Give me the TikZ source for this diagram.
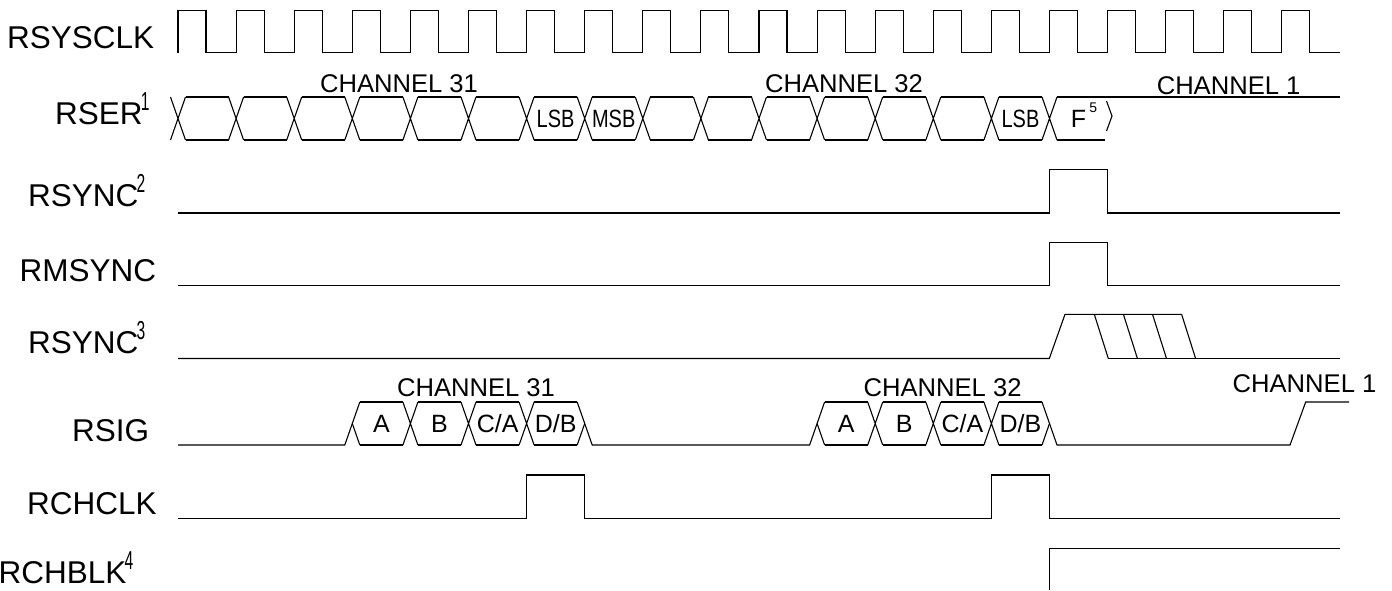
\documentclass[tikz,border=0pt]{standalone}
\usepackage{fontspec}
\setmainfont{Liberation Sans}
\newfontfamily\narrowfont[FakeStretch=0.8]{Liberation Sans}
\newfontfamily\notefont[FakeStretch=0.6]{Liberation Sans}
\newcommand{\notemark}[1]{\kern-0.8pt\raisebox{6.6pt}{\notefont\fontsize{13pt}{13pt}\selectfont #1}}

\begin{document}
\begin{tikzpicture}[x=0.5pt, y=-0.5pt, line width=0.55pt,
    signame/.style={anchor=base west, inner sep=0pt, font=\fontsize{15.75pt}{18pt}\selectfont},
    chname/.style={anchor=base, inner sep=0pt, font=\fontsize{12.8pt}{15pt}\selectfont},
    bitname/.style={anchor=base, inner sep=0pt, font=\fontsize{12.5pt}{15pt}\selectfont},
    narrowbit/.style={bitname, font=\narrowfont\fontsize{12.5pt}{15pt}\selectfont}]
    \useasboundingbox (0,0) rectangle (1392,590);

    \node[signame] (rsysclk) at (6.5,48) {RSYSCLK};
    \node[signame] (rser) at (54.5,124) {RSER\notemark{1}};
    \node[signame] (rsync) at (27.5,206) {RSYNC\notemark{2}};
    \node[signame] (rmsync) at (19,281) {RMSYNC};
    \node[signame] (rsyncout) at (27.5,353) {RSYNC\notemark{3}};
    \node[signame] (rsig) at (71.5,441) {RSIG};
    \node[signame] (rchclk) at (26.5,514.5) {RCHCLK};
    \node[signame] (rchblk) at (-2,583) {RCHBLK\notemark{4}};

    \node[chname] (sertop31) at (399,92) {CHANNEL 31};
    \node[chname] (sertop32) at (844,92) {CHANNEL 32};
    \node[chname] (sertop1) at (1228.6,94) {CHANNEL 1};
    \node[chname] (sigtop31) at (476,396) {CHANNEL 31};
    \node[chname] (sigtop32) at (942.6,396) {CHANNEL 32};
    \node[chname] (sigtop1) at (1304.5,392) {CHANNEL 1};

    \draw (178,52.5) \foreach \k in {0,...,19} {
        -- ({178+58.1*\k},10.5) -- ({206+58.1*\k},10.5)
        -- ({206+58.1*\k},52.5) -- ({236.1+58.1*\k},52.5)};

    \foreach \k in {0,...,15}
        \draw ({170.5+58.1*\k},97) -- ({185.5+58.1*\k},140) ({170.5+58.1*\k},140) -- ({185.5+58.1*\k},97);
    \foreach \k in {0,...,14}
        \draw ({185.5+58.1*\k},97) -- ({228.6+58.1*\k},97) ({185.5+58.1*\k},140) -- ({228.6+58.1*\k},140);
    \draw (1057,97) -- (1340,97) (1057,140) -- (1105,140);
    \draw (1106.5,101) -- (1112,116) -- (1106.5,131);
    \node[narrowbit] (lsb31) at (555.6,127.5) {LSB};
    \node[narrowbit] (msb32) at (613.7,127.5) {MSB};
    \node[narrowbit] (lsb32) at (1020.5,127.5) {LSB};
    \node[bitname] (fbit) at (1084,127.5) {F\kern1.5pt\raisebox{7.5pt}{\fontsize{7pt}{7pt}\selectfont 5}};

    \draw (178,213) -- (1049.5,213) -- (1049.5,169.5) -- (1107.6,169.5) -- (1107.6,213) -- (1340,213);
    \draw (178,285.7) -- (1049.5,285.7) -- (1049.5,242.3) -- (1107.6,242.3) -- (1107.6,285.7) -- (1340,285.7);

    \draw (178,358.5) -- (1049.3,358.5) -- (1065,314.3) -- (1181.7,314.3);
    \foreach \j in {0,...,3}
        \draw ({1094.3+29.1*\j},314.3) -- ({1108.3+29.1*\j},358.5);
    \draw (1108.3,358.5) -- (1340,358.5);

    \draw (178,445) -- (344.8,445) -- (359.8,402);
    \draw (352.3,423.5) -- (359.8,445);
    \foreach \k in {4,5,6,12,13,14}
        \draw ({170.5+58.1*\k},402) -- ({185.5+58.1*\k},445) ({170.5+58.1*\k},445) -- ({185.5+58.1*\k},402);
    \foreach \k in {3,4,5,6,11,12,13,14}
        \draw ({185.5+58.1*\k},402) -- ({228.6+58.1*\k},402) ({185.5+58.1*\k},445) -- ({228.6+58.1*\k},445);
    \draw (577.2,402) -- (592.2,445) -- (809.6,445) -- (824.6,402);
    \draw (577.2,445) -- (584.7,423.5);
    \draw (817.1,423.5) -- (824.6,445);
    \draw (1042,402) -- (1057,445) -- (1290,445) -- (1305.7,402) -- (1349,402);
    \draw (1042,445) -- (1049.5,423.5);
    \foreach \t [count=\i from 3] in {A,B,C/A,D/B}
        \node[bitname] (sig31bit\i) at ({207.1+58.1*\i},432.5) {\t};
    \foreach \t [count=\i from 11] in {A,B,C/A,D/B}
        \node[bitname] (sig32bit\i) at ({207.1+58.1*\i},432.5) {\t};

    \draw (178,518.3) -- (526.6,518.3) -- (526.6,475) -- (584.7,475) -- (584.7,518.3) -- (991.4,518.3)
        -- (991.4,475) -- (1049.5,475) -- (1049.5,518.3) -- (1340,518.3);
    \draw (1049.5,590) -- (1049.5,548.3) -- (1340,548.3);
\end{tikzpicture}
\end{document}
